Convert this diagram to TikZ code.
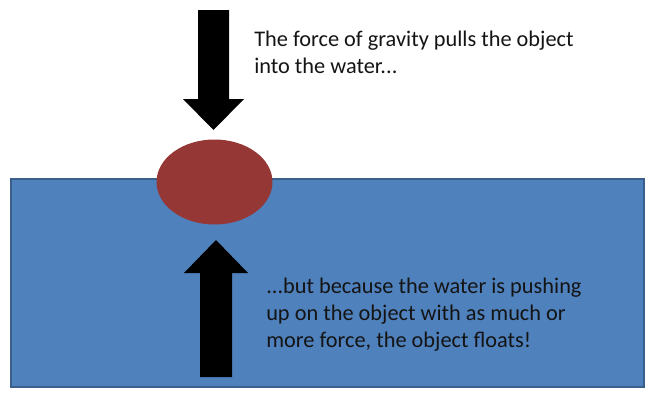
\documentclass[tikz,border=0pt]{standalone}
\usepackage{fontspec}
\setmainfont{Carlito}
\definecolor{water}{HTML}{4F81BD}
\definecolor{waterline}{HTML}{3A5F8C}
\definecolor{objfill}{HTML}{953735}
\definecolor{txt}{HTML}{141414}
\tikzset{
  forcearrow/.style={fill=black, draw=none},
  label text/.style={anchor=base west, inner sep=0pt, align=left, text=txt,
    font=\fontsize{16.75}{20}\selectfont}
}
\begin{document}
\begin{tikzpicture}[x=0.75pt,y=-0.75pt]
\useasboundingbox (0,0) rectangle (654,400);
% water
\draw[fill=water, draw=waterline, line width=1.2pt] (11,179) rectangle (644,387);
% object
\fill[objfill] (214.5,182) ellipse [x radius=58, y radius=42.5];
% gravity arrow (down)
\fill[forcearrow] (198,10) -- (229,10) -- (229,99) -- (244,99) -- (213.5,130)
  -- (183,99) -- (198,99) -- cycle;
% buoyancy arrow (up)
\fill[forcearrow] (200,377) -- (232,377) -- (232,273) -- (248,273) -- (216,240)
  -- (184,273) -- (200,273) -- cycle;
% texts (base anchor = baseline of the last line)
\node[label text] (gravity) at (254,73) {The force of gravity pulls the object\\into the water...};
\node[label text] (buoyancy) at (266,347) {...but because the water is pushing\\up on the object with as much or\\more force, the object floats!};
\end{tikzpicture}
\end{document}
